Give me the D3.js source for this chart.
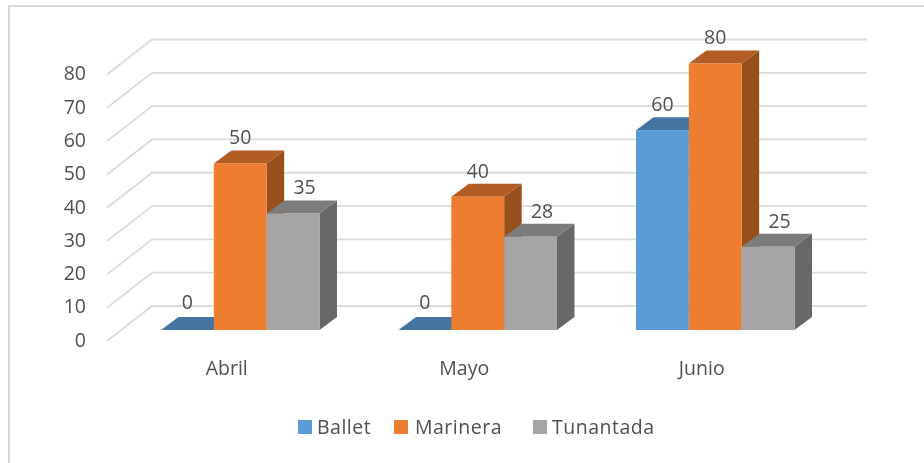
<!DOCTYPE html>
<html>
<head>
<meta charset="utf-8">
<script src="https://cdn.jsdelivr.net/npm/d3@7"></script>
<style>
  html, body { margin: 0; padding: 0; background: #fff; }
  svg { display: block; filter: blur(0.6px); }
  text { font-family: "Open Sans", sans-serif; fill: #505050; }
</style>
</head>
<body>
<div id="chart"></div>
<script>
// Data
const categories = ["Abril", "Mayo", "Junio"]
const seriesNames = ["Ballet", "Marinera", "Tunantada"]
const ballet = [0, 0, 60]
const marinera = [50, 40, 80]
const tunantada = [35, 28, 25]
const yTicks = [0, 10, 20, 30, 40, 50, 60, 70, 80]

const WIDTH = 924
const HEIGHT = 463
const FONT = 19.5

// Fake 3D offsets
const BAR_DX = 17.5
const BAR_DY = -13
const WALL_DX = 45
const WALL_DY = -35

const frontColors = ["#5b9bd5", "#ed7d31", "#a5a5a5"]
const topColors = ["#4475a0", "#b25d24", "#7c7c7c"]
const sideColors = ["#3d6a91", "#97501b", "#686868"]
const labelShift = [0, 0, 11.5]      // gray labels sit to the right of the bar
const legendX = [298, 394, 533]
const legendGap = [19, 21, 19]

const svg = d3.select("#chart")
    .append("svg")
    .attr("width", WIDTH)
    .attr("height", HEIGHT)

// Outer frame, only top and left are visible
svg.append("path")
    .attr("d", d3.line()([[9, HEIGHT], [9, 6], [WIDTH, 6]]))
    .style("fill", "none")
    .style("stroke", "#d9d9d9")
    .style("stroke-width", 2)

const y = d3.scaleLinear().domain([0, 80]).range([330, 63.5])
const x0 = d3.scaleBand().domain(categories).range([108, 820.5])
const x1 = d3.scaleBand().domain(seriesNames).range([0, 158.5])

// Gridlines: side wall then back wall
const gridLine = d3.line()
svg.append("g")
    .selectAll("path")
    .data(yTicks)
    .enter()
    .append("path")
    .attr("d", d => {
        const front = y(d) + 11
        return gridLine([[107, front], [107 + WALL_DX, front + WALL_DY], [867, front + WALL_DY]])
    })
    .style("fill", "none")
    .style("stroke", "#dcdcdc")
    .style("stroke-width", 1.8)

// Axes
const yAxis = svg.append("g")
    .attr("transform", "translate(86,10)")
    .call(d3.axisLeft(y).tickValues(yTicks).tickSize(0).tickPadding(0))
yAxis.select(".domain").remove()
yAxis.selectAll("text").style("font-size", FONT + "px")

const xAxis = svg.append("g")
    .attr("transform", "translate(0,358)")
    .call(d3.axisBottom(x0).tickSize(0).tickPadding(3))
xAxis.select(".domain").remove()
xAxis.selectAll("text").style("font-size", FONT + "px")

// Bars, painted left to right so later ones cover earlier sides
const allSeries = [ballet, marinera, tunantada]
const poly = d3.line()

categories.forEach((cat, c) => {
    const g = svg.append("g")
    seriesNames.forEach((name, s) => {
        const v = allSeries[s][c]
        const xl = x0(cat) + 53 + x1(name)
        const xr = xl + x1.bandwidth()
        const yt = y(v)
        const yb = y(0)

        g.append("path")
            .attr("d", poly([[xr, yt], [xr + BAR_DX, yt + BAR_DY], [xr + BAR_DX, yb + BAR_DY], [xr, yb]]) + "Z")
            .style("fill", v > 0 ? sideColors[s] : "none")
        g.append("path")
            .attr("d", poly([[xl, yt], [xl + BAR_DX, yt + BAR_DY], [xr + BAR_DX, yt + BAR_DY], [xr, yt]]) + "Z")
            .style("fill", topColors[s])
        g.append("rect")
            .attr("x", xl)
            .attr("y", yt)
            .attr("width", x1.bandwidth())
            .attr("height", yb - yt)
            .style("fill", frontColors[s])
    })
})

// Value labels go on top of all bars
categories.forEach((cat, c) => {
    seriesNames.forEach((name, s) => {
        const v = allSeries[s][c]
        svg.append("text")
            .attr("x", x0(cat) + 53 + x1(name) + x1.bandwidth() / 2 + labelShift[s])
            .attr("y", y(v) + BAR_DY - (v === 0 ? 15 : 13))
            .attr("dy", "0.35em")
            .attr("text-anchor", "middle")
            .style("font-size", FONT + "px")
            .text(v)
    })
})

// Legend
const legend = svg.append("g")
    .selectAll("g")
    .data(seriesNames)
    .enter()
    .append("g")
    .attr("transform", (d, i) => `translate(${legendX[i]},420)`)
legend.append("rect")
    .attr("width", 14)
    .attr("height", 14)
    .style("fill", (d, i) => frontColors[i])
legend.append("text")
    .attr("x", (d, i) => legendGap[i])
    .attr("y", 7)
    .attr("dy", "0.35em")
    .style("font-size", FONT + "px")
    .style("letter-spacing", "0.5px")
    .text(d => d)
</script>
</body>
</html>
